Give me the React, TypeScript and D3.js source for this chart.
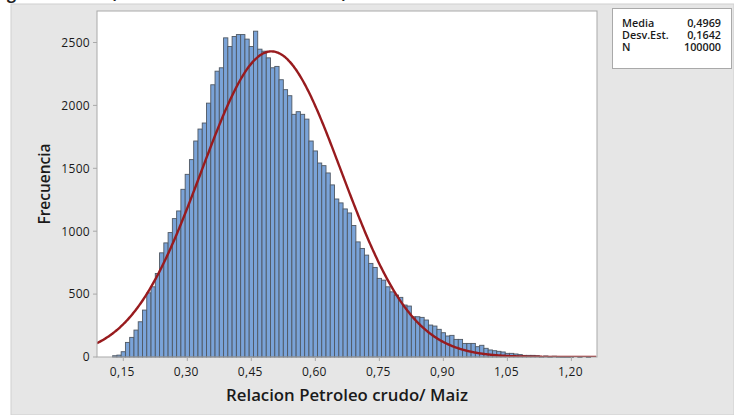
import React from 'react';
import * as d3 from 'd3';

const BIN_START = 0.13;
const BIN_WIDTH = 0.01;
const counts = [
  10, 15, 42, 116, 156, 214, 280, 373,
  510, 558, 664, 828, 907, 989, 1100, 1161, 1333, 1452,
  1569, 1717, 1812, 1860, 2018, 2164, 2272, 2299, 2537, 2468,
  2548, 2563, 2563, 2527, 2468, 2590, 2447, 2431, 2378, 2299,
  2310, 2204, 2125, 2077, 1929, 1950, 1929, 1891, 1717, 1638,
  1542, 1521, 1463, 1368, 1256, 1225, 1177, 1145, 1045, 915,
  863, 810, 744, 712, 625, 611, 558, 518, 492, 474,
  413, 405, 320, 320, 315, 294, 254, 246, 220, 193,
  167, 172, 140, 140, 108, 108, 108, 82, 93, 69,
  56, 50, 45, 40, 29, 29, 24, 19, 13, 13,
  13, 10, 3, 8, 2, 6, 2, 1, 1, 1, 0, 1, 0, 1,
];

const MEAN = 0.4969;
const SD = 0.1642;
const N = 100000;

const xTicks = [0.15, 0.3, 0.45, 0.6, 0.75, 0.9, 1.05, 1.2];
const yTicks = [0, 500, 1000, 1500, 2000, 2500];

const statLabels = ['Media', 'Desv.Est.', 'N'];
const statValues = ['0,4969', '0,1642', '100000'];

const W = 734;
const H = 415;
const PL = 97, PR = 597, PT = 11, PB = 357;

const FONT = "'Open Sans', 'Noto Sans', sans-serif";

export default function App() {
  const x = d3.scaleLinear().domain([0.0884, 1.26]).range([PL, PR]);
  const y = d3.scaleLinear().domain([0, 2500]).range([PB, 42.5]);

  const fmt = (v: number) => d3.format('.2f')(v).replace('.', ',');

  const peak = (N * BIN_WIDTH) / (SD * Math.sqrt(2 * Math.PI));
  const xs = d3.range(0.0884, 1.26, 0.002);
  const pts: [number, number][] = xs.map((v) => [v, peak * Math.exp(-0.5 * ((v - MEAN) / SD) ** 2)]);
  const line = d3
    .line<[number, number]>()
    .x((d) => x(d[0]))
    .y((d) => y(d[1]))
    .curve(d3.curveBasis);

  return (
    <svg width={W} height={H} style={{ position: 'absolute', left: 0, top: 0 }} fontFamily={FONT}>
      <defs>
        <clipPath id="clip">
          <rect x={PL} y={PT} width={PR - PL} height={PB - PT} />
        </clipPath>
      </defs>
      <rect x={0} y={0} width={W} height={H} fill="#ffffff" />
      <text x={-35} y={-1} fontSize={16} fontWeight={700} fill="#222">
        Histograma
        <tspan x={111} textLength={236} lengthAdjust="spacing">(con curva normal)</tspan>
      </text>
      <rect x={11} y={4} width={W - 11} height={H - 4} fill="#e6e6e6" stroke="#cfcfcf" strokeWidth={1} />

      {/* plot area */}
      <rect x={PL} y={PT} width={PR - PL} height={PB - PT} fill="#ffffff" />

      {/* bars */}
      {counts.map((c, i) => {
        if (c <= 0) return null;
        const center = BIN_START + i * BIN_WIDTH;
        const x0 = x(center - BIN_WIDTH / 2);
        const x1 = x(center + BIN_WIDTH / 2);
        const yt = y(c);
        return (
          <rect
            key={i}
            x={x0}
            y={yt}
            width={x1 - x0}
            height={Math.max(PB - yt, 0.6)}
            fill="#7aa3d8"
            stroke="#4f5863"
            strokeWidth={0.9}
          />
        );
      })}

      {/* normal curve */}
      <path d={line(pts) || ''} fill="none" stroke="#981b1e" strokeWidth={2.4} clipPath="url(#clip)" />

      {/* frame */}
      <rect x={PL} y={PT} width={PR - PL} height={PB - PT} fill="none" stroke="#a9a9a9" strokeWidth={1} />

      {/* y axis */}
      {yTicks.map((t) => (
        <g key={t}>
          <line x1={PL - 4} x2={PL} y1={y(t)} y2={y(t)} stroke="#a9a9a9" />
          <text x={PL - 7} y={y(t) + 4.3} textAnchor="end" fontSize={12} letterSpacing={0.3} fill="#1a1a1a">
            {t}
          </text>
        </g>
      ))}

      {/* x axis */}
      {xTicks.map((t) => (
        <g key={t}>
          <line x1={x(t)} x2={x(t)} y1={PB} y2={PB + 4} stroke="#a9a9a9" />
          <text x={x(t) - 1} y={PB + 19} textAnchor="middle" fontSize={12} letterSpacing={0.3} fill="#1a1a1a">
            {fmt(t)}
          </text>
        </g>
      ))}

      <text x={(PL + PR) / 2} y={401} textAnchor="middle" fontSize={16.8} fontWeight={600} fill="#1a1a1a">
        Relacion Petroleo crudo/ Maiz
      </text>
      <text
        transform={`translate(50, ${(PT + PB) / 2}) rotate(-90)`}
        textAnchor="middle"
        fontSize={15.5}
        fontWeight={600}
        fill="#1a1a1a"
      >
        Frecuencia
      </text>

      {/* stats box */}
      <rect x={612.5} y={8.5} width={119} height={60} fill="#ffffff" stroke="#a9a9a9" />
      {statLabels.map((l, i) => (
        <g key={l}>
          <text x={622} y={26.5 + i * 12} fontSize={10.8} fontWeight={600} fill="#1a1a1a">
            {l}
          </text>
          <text x={721} y={26.5 + i * 12} textAnchor="end" fontSize={10.8} fontWeight={600} fill="#1a1a1a">
            {statValues[i]}
          </text>
        </g>
      ))}
    </svg>
  );
}
